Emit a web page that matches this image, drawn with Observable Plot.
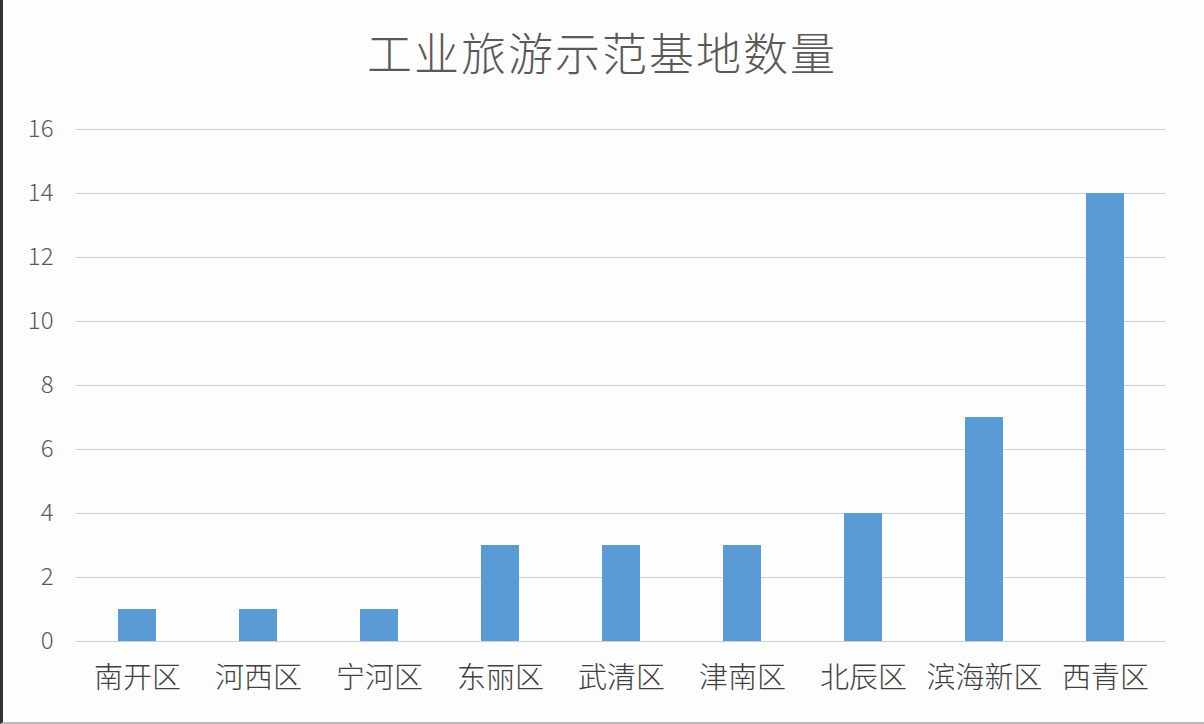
<!DOCTYPE html>
<html><head><meta charset="utf-8">
<script src="https://cdn.jsdelivr.net/npm/d3@7"></script>
<script src="https://cdn.jsdelivr.net/npm/@observablehq/plot@0.6"></script>
<style>
html,body{margin:0;padding:0;background:#fff;}
#wrap{position:relative;width:1204px;height:724px;box-sizing:border-box;border-left:3px solid #333;border-bottom:2px solid #bbb;background:#fdfdfd;overflow:hidden;}
#title{position:absolute;left:0;top:0;width:1204px;height:100px;line-height:104px;text-align:center;font-family:"Noto Sans CJK SC",sans-serif;font-weight:300;font-size:45px;color:#595959;letter-spacing:2px;margin-left:-3px;}
#chart{position:absolute;left:-3px;top:100px;}
</style></head>
<body><div id="wrap"><div id="title">工业旅游示范基地数量</div><div id="chart"></div></div>
<script>
const districts = ["南开区","河西区","宁河区","东丽区","武清区","津南区","北辰区","滨海新区","西青区"];
const counts = [1,1,1,3,3,3,4,7,14];
const yTicks = [0,2,4,6,8,10,12,14,16];
const data = districts.map((d,i)=>({district:d, count:counts[i]}));
const plot = Plot.plot({
  width:1204, height:624,
  marginTop:29, marginBottom:83, marginLeft:76, marginRight:39,
  style:{fontFamily:"'Noto Sans CJK SC', sans-serif", fontWeight:300, background:"transparent", color:"#595959"},
  x:{domain:districts, paddingInner:0.686, paddingOuter:0.343, label:null, tickSize:0, tickPadding:22, tickFormat:d=>d},
  y:{domain:[0,16], ticks:yTicks, label:null, tickSize:0, tickPadding:22},
  marks:[
    Plot.ruleY(yTicks,{stroke:"#d0d0d0", strokeWidth:1.2}),
    Plot.barY(data,{x:"district", y:"count", fill:"#5b9bd5"}),
    Plot.axisY({ticks:yTicks, tickSize:0, tickPadding:23, fontSize:24, fill:"#595959", label:null}),
    Plot.axisX({tickSize:0, tickPadding:26, fontSize:29, fill:"#404040", label:null})
  ]
});
document.getElementById("chart").appendChild(plot);
</script></body></html>
